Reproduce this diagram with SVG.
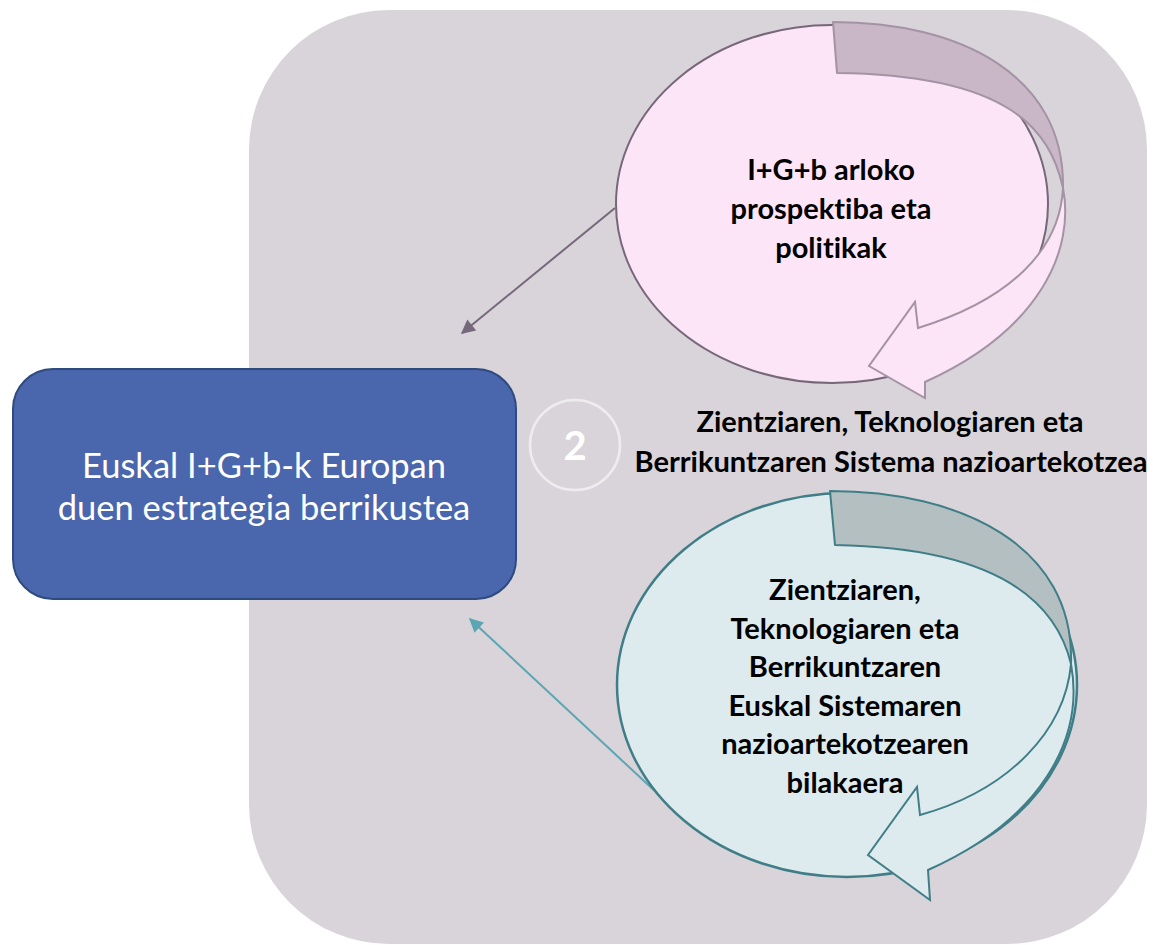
<svg xmlns="http://www.w3.org/2000/svg" width="1153" height="945" viewBox="0 0 1153 945">
  <defs>
    <style>
      text { font-variant-ligatures: none; font-feature-settings: "liga" 0, "clig" 0; }
      .lbl { font-family: Lato, "Liberation Sans", sans-serif; font-weight: bold; font-size: 29px; fill: #000; text-anchor: middle; }
      .box { font-family: Lato, "Liberation Sans", sans-serif; font-size: 34.5px; fill: #fff; text-anchor: middle; }
      .num { font-family: Lato, "Liberation Sans", sans-serif; font-weight: bold; font-size: 40px; fill: #fff; text-anchor: middle; }
    </style>
    <marker id="ahTop" viewBox="0 0 10 10" refX="9" refY="5" markerWidth="16" markerHeight="14" markerUnits="userSpaceOnUse" orient="auto">
      <path d="M0,0 L10,5 L0,10 Z" fill="#76687b"/>
    </marker>
    <marker id="ahBot" viewBox="0 0 10 10" refX="9" refY="5" markerWidth="16" markerHeight="14" markerUnits="userSpaceOnUse" orient="auto">
      <path d="M0,0 L10,5 L0,10 Z" fill="#5ba6b3"/>
    </marker>
  </defs>

  <g id="background">
    <rect x="249" y="10" width="898" height="934" rx="140" ry="140" fill="#d9d4da"/>
  </g>

  <g id="connectors">
    <line x1="615" y1="208" x2="462" y2="333" stroke="#76687b" stroke-width="2" marker-end="url(#ahTop)"/>
    <line x1="658" y1="794" x2="470" y2="619" stroke="#5ba6b3" stroke-width="2" marker-end="url(#ahBot)"/>
  </g>

  <g id="node-top">
    <ellipse cx="832" cy="204" rx="216" ry="179" fill="#fce5f7" stroke="#77677a" stroke-width="2"/>
    <path d="M833,22 C960,22 1065,75 1063,188 C1050,130 1010,75 837,73 Z" fill="#c9b7c8" stroke="#a393a5" stroke-width="2" stroke-linejoin="round"/>
    <path d="M1063,188 C1075,250 1040,330 925,382 L925,398 L869,366 L915,302 L918,328 C1010,300 1060,250 1063,188 Z" fill="#fce5f7" stroke="#a393a5" stroke-width="2" stroke-linejoin="miter"/>
    <text class="lbl" x="831" y="180">I+G+b arloko</text>
    <text class="lbl" x="831" y="219">prospektiba eta</text>
    <text class="lbl" x="831" y="258">politikak</text>
  </g>

  <g id="node-bottom">
    <ellipse cx="847" cy="685" rx="230" ry="192" fill="#ddeaee" stroke="#3f7e87" stroke-width="2.5"/>
    <path d="M830,491 C960,491 1075,545 1071,664 C1058,610 1010,548 835,545 Z" fill="#b4bfc1" stroke="#3f7e87" stroke-width="2" stroke-linejoin="round"/>
    <path d="M1071,664 C1085,740 1040,820 928,870 L930,900 L868,855 L917,787 L920,815 C1010,790 1065,730 1071,664 Z" fill="#ddeaee" stroke="#3f7e87" stroke-width="2" stroke-linejoin="miter"/>
    <text class="lbl" x="845" y="600">Zientziaren,</text>
    <text class="lbl" x="845" y="639">Teknologiaren eta</text>
    <text class="lbl" x="845" y="677">Berrikuntzaren</text>
    <text class="lbl" x="845" y="716">Euskal Sistemaren</text>
    <text class="lbl" x="845" y="754">nazioartekotzearen</text>
    <text class="lbl" x="845" y="793">bilakaera</text>
  </g>

  <g id="node-main">
    <rect x="13" y="369" width="503" height="230" rx="40" ry="40" fill="#4a66ad" stroke="#2e4a7e" stroke-width="2"/>
    <text class="box" x="264" y="478">Euskal I+G+b-k Europan</text>
    <text class="box" x="264" y="520">duen estrategia berrikustea</text>
  </g>

  <g id="node-step">
    <circle cx="575" cy="445" r="45" fill="none" stroke="#efecef" stroke-width="2.5"/>
    <text class="num" x="575" y="460">2</text>
  </g>

  <g id="node-label">
    <text class="lbl" x="890" y="432">Zientziaren, Teknologiaren eta</text>
    <text class="lbl" x="891" y="472">Berrikuntzaren Sistema nazioartekotzea</text>
  </g>
</svg>
